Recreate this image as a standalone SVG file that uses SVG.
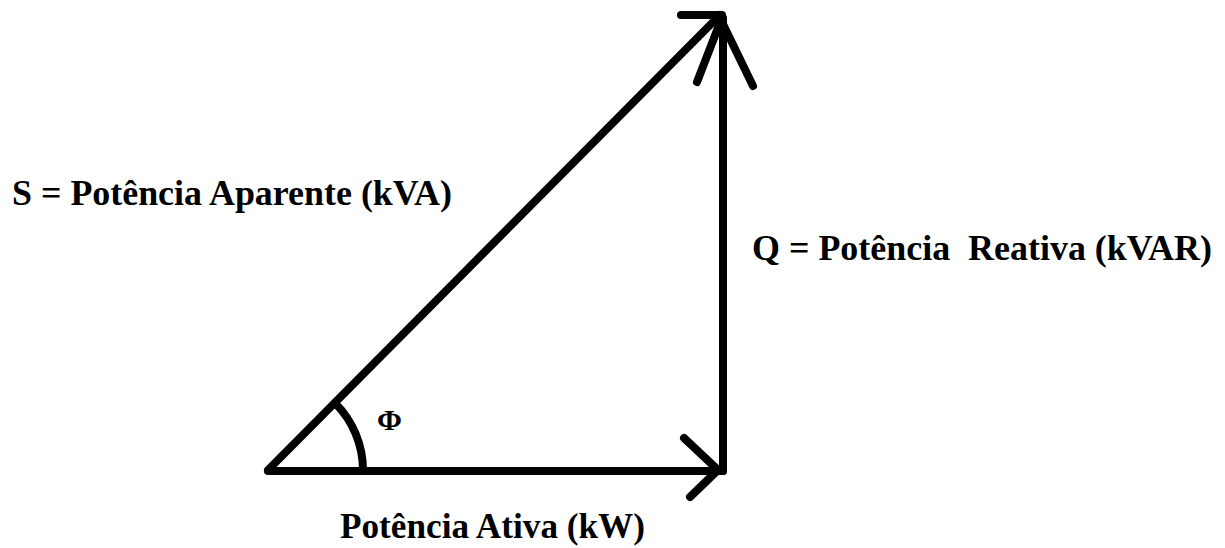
<svg xmlns="http://www.w3.org/2000/svg" width="1225" height="548" viewBox="0 0 1225 548">
<style>
.ln{stroke:#000;stroke-width:8;fill:none;stroke-linecap:round;stroke-linejoin:round}
.t{font-family:"Liberation Serif","Times New Roman",serif;font-weight:bold;font-size:35.5px;fill:#000;white-space:pre}
</style>
<rect width="1225" height="548" fill="#fff"/>
<g id="connectors">
<path id="hyp" class="ln" d="M268,470 L720,15"/>
<path id="hyp-head" class="ln" d="M681,15 L722,15"/>
<path id="vert" class="ln" d="M723,471 L723,18"/>
<path id="vert-head" class="ln" d="M697,82 L721,20 L753,86"/>
<path id="horiz" class="ln" d="M268,471 L723,471"/>
<path id="horiz-head" class="ln" d="M684,438 L718,470 L690,497"/>
<path id="angle-arc" class="ln" d="M335,403 A95,95 0 0 1 363,471"/>
</g>
<g id="label-s"><text class="t" x="12" y="205" textLength="440" lengthAdjust="spacingAndGlyphs">S = Potência Aparente (kVA)</text></g>
<g id="label-q"><text class="t" x="752" y="260" textLength="460" lengthAdjust="spacingAndGlyphs">Q = Potência  Reativa (kVAR)</text></g>
<g id="label-p"><text class="t" x="340" y="538" textLength="305" lengthAdjust="spacingAndGlyphs">Potência Ativa (kW)</text></g>
<g id="label-phi"><text class="t" x="377" y="430" style="font-size:30px">Φ</text></g>
</svg>
